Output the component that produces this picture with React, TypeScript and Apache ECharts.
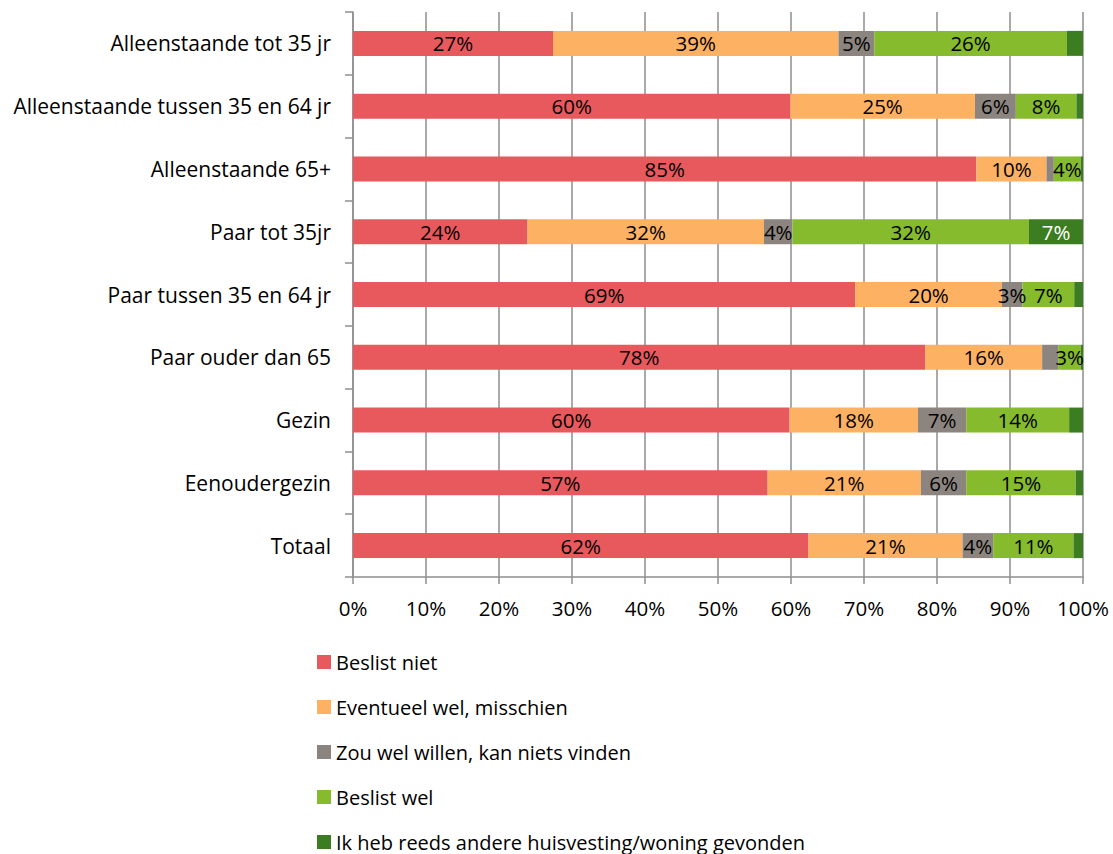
import React, { useEffect, useRef } from "react";
import * as echarts from "echarts";

const categories = [
  "Alleenstaande tot 35 jr",
  "Alleenstaande tussen 35 en 64 jr",
  "Alleenstaande 65+",
  "Paar tot 35jr",
  "Paar tussen 35 en 64 jr",
  "Paar ouder dan 65",
  "Gezin",
  "Eenoudergezin",
  "Totaal",
];

const seriesNames = [
  "Beslist niet",
  "Eventueel wel, misschien",
  "Zou wel willen, kan niets vinden",
  "Beslist wel",
  "Ik heb reeds andere huisvesting/woning gevonden",
];

const beslistNiet = [27.4, 59.9, 85.4, 23.9, 68.8, 78.4, 59.8, 56.8, 62.4];
const eventueelWel = [39.1, 25.3, 9.6, 32.4, 20.1, 16.0, 17.6, 21.0, 21.1];
const zouWelWillen = [4.9, 5.6, 1.0, 3.9, 2.8, 2.2, 6.6, 6.2, 4.2];
const beslistWel = [26.4, 8.3, 3.7, 32.4, 7.1, 3.1, 14.1, 15.0, 11.0];
const reedsGevonden = [2.2, 0.9, 0.3, 7.4, 1.2, 0.3, 1.9, 1.0, 1.3];

const xTickLabels = ["0%", "10%", "20%", "30%", "40%", "50%", "60%", "70%", "80%", "90%", "100%"];

const colors = ["#E8595E", "#FDB163", "#8C857F", "#85BB2D", "#3D7D22"];
const labelColors = ["#000", "#000", "#000", "#000", "#fff"];

const FONT = "Open Sans";

export default function App() {
  const ref = useRef<HTMLDivElement>(null);
  useEffect(() => {
    document.body.style.margin = "0";
    const chart = echarts.init(ref.current!, undefined, { renderer: "svg" });
    const allData = [beslistNiet, eventueelWel, zouWelWillen, beslistWel, reedsGevonden];
    chart.setOption({
      animation: false,
      textStyle: { fontFamily: FONT },
      grid: { left: 353, right: 30, top: 12, bottom: 277, containLabel: false },
      xAxis: {
        type: "value",
        min: 0,
        max: 100,
        interval: 10,
        axisLine: { show: true, lineStyle: { color: "#8e8e8e", width: 1.5 } },
        axisTick: { show: true, length: 7, lineStyle: { color: "#8e8e8e", width: 1.5 } },
        splitLine: { show: true, lineStyle: { color: "#8e8e8e", width: 1.5 } },
        axisLabel: {
          margin: 20,
          fontSize: 20.5,
          color: "#000",
          fontFamily: FONT,
          formatter: (v: number) => xTickLabels[Math.round(v / 10)] ?? "",
        },
      },
      yAxis: {
        type: "category",
        data: categories,
        inverse: true,
        axisLine: { show: true, lineStyle: { color: "#8e8e8e", width: 1.5 } },
        axisTick: { show: true, length: 8, lineStyle: { color: "#8e8e8e", width: 1.5 } },
        axisLabel: { margin: 22, fontSize: 21, color: "#000", fontFamily: FONT },
      },
      legend: {
        orient: "vertical",
        left: 317,
        top: 652,
        padding: 0,
        itemWidth: 14,
        itemHeight: 14,
        itemGap: 25,
        icon: "rect",
        textStyle: { fontSize: 20, color: "#000", fontFamily: FONT, lineHeight: 20 },
        data: seriesNames,
      },
      series: seriesNames.map((name, i) => ({
        name,
        type: "bar",
        stack: "total",
        barWidth: 25,
        data: allData[i],
        itemStyle: { color: colors[i] },
        label: {
          show: true,
          position: "inside",
          fontSize: 20.5,
          fontFamily: FONT,
          color: labelColors[i],
          formatter: (p: any) => (p.value >= 2.5 ? Math.round(p.value) + "%" : ""),
        },
      })),
    });
    return () => chart.dispose();
  }, []);
  return <div ref={ref} style={{ width: 1113, height: 854 }} />;
}
